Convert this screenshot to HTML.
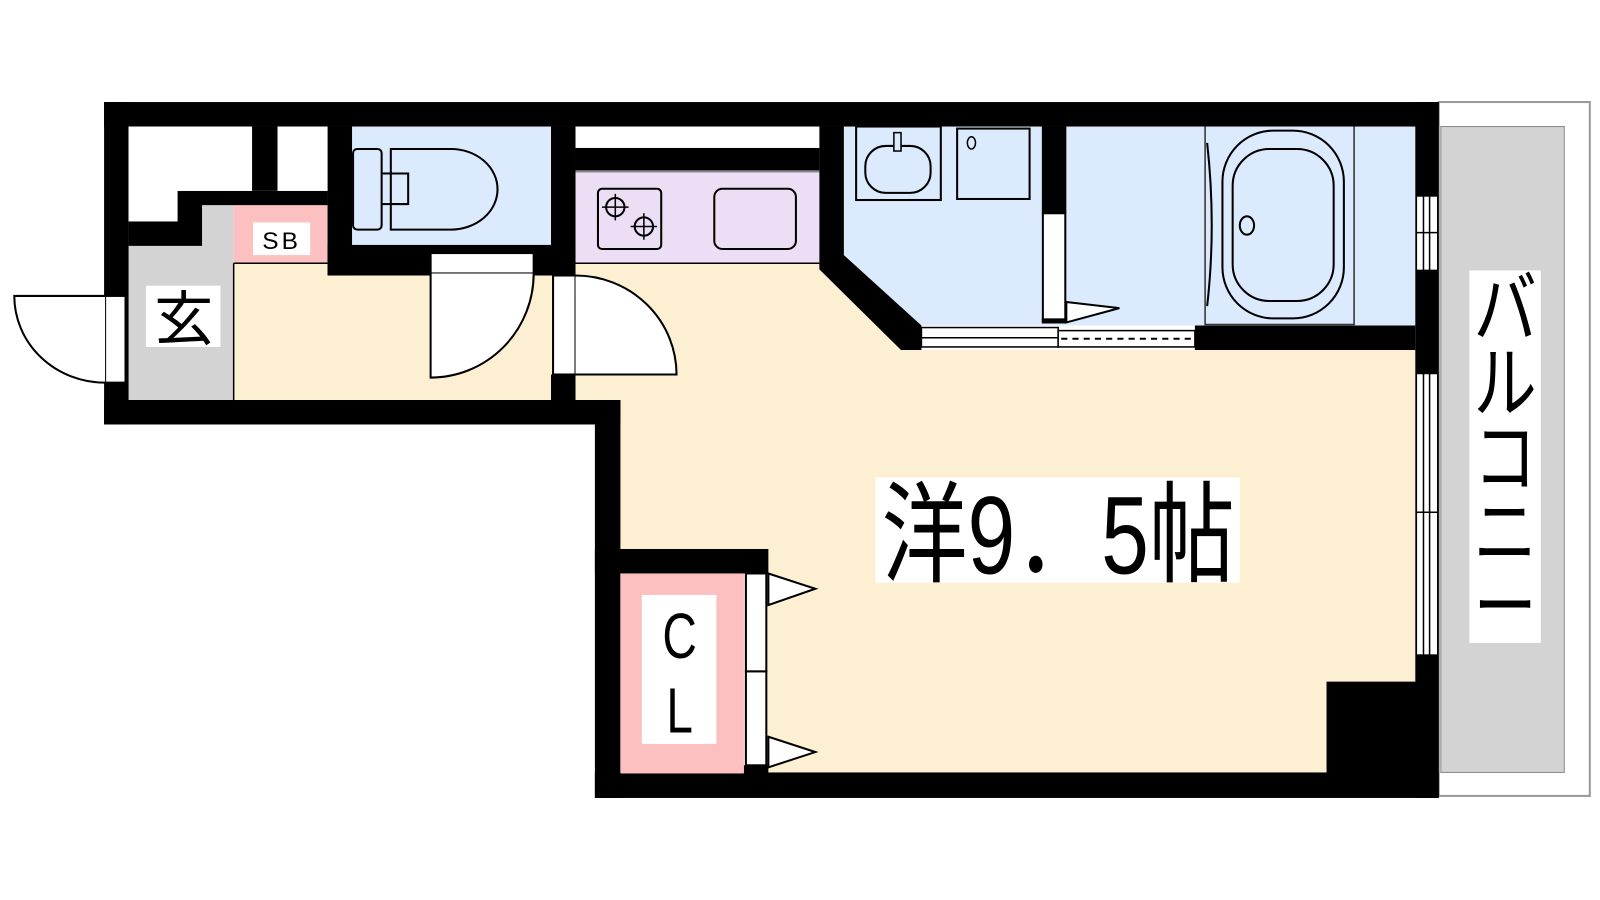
<!DOCTYPE html>
<html><head><meta charset="utf-8"><style>html,body{margin:0;padding:0;background:#fff}svg{display:block}</style></head>
<body>
<svg width="1600" height="900" viewBox="0 0 1568 882" preserveAspectRatio="none" xmlns="http://www.w3.org/2000/svg" font-family="'Liberation Sans','Noto Sans CJK JP',sans-serif">
<rect width="1568" height="882" fill="#fff"/>
<!-- balcony -->
<rect x="1410" y="100" width="148" height="680" fill="#fff" stroke="#999" stroke-width="2"/>
<rect x="1412" y="124" width="121" height="633" fill="#d3d3d3" stroke="#888" stroke-width="1"/>
<rect x="1440" y="265" width="70" height="365" fill="#fff"/>
<g font-size="62" text-anchor="middle" fill="#000">
<text transform="translate(1475,330) scale(1,1.25)">バ</text>
<text transform="translate(1475,403) scale(1,1.25)">ル</text>
<text transform="translate(1475,476) scale(1,1.25)">コ</text>
<text transform="translate(1475,549) scale(1,1.25)">ニ</text>
<text transform="translate(1475,622) scale(1,1.25)">ー</text>
</g>
<!-- main room floor -->
<polygon points="564,258 803,258 883,343 1387,343 1387,757 608,757 608,394 564,394" fill="#fdf0d2"/>
<!-- hallway -->
<rect x="229" y="258" width="335" height="136" fill="#fdf0d2"/>
<!-- genkan -->
<polygon points="198,201 229,201 229,394 126,394 126,241 198,241" fill="#d3d3d3"/>
<rect x="143" y="280" width="73" height="60" fill="#fff"/>
<text x="180" y="333" font-size="58" text-anchor="middle">玄</text>
<!-- SB -->
<rect x="229" y="201" width="92" height="57" fill="#fcc0c0"/>
<rect x="248" y="218" width="56" height="32" fill="#fff"/>
<text x="276" y="244" font-size="24" text-anchor="middle" letter-spacing="3">SB</text>
<line x1="229" y1="258" x2="321" y2="258" stroke="#000" stroke-width="1.5"/>
<line x1="229" y1="258" x2="229" y2="394" stroke="#000" stroke-width="1.5"/>
<!-- toilet -->
<rect x="345" y="124" width="195" height="116" fill="#dbeafd"/>
<rect x="346" y="146" width="28" height="79" rx="4" fill="none" stroke="#000" stroke-width="2"/>
<path d="M383,146 H442 A45,39 0 0 1 442,225 H383 Z" fill="none" stroke="#000" stroke-width="2"/>
<path d="M383,170 H400 V200 H383" fill="none" stroke="#000" stroke-width="2"/>
<line x1="374" y1="170" x2="383" y2="170" stroke="#000" stroke-width="2"/><line x1="374" y1="200" x2="383" y2="200" stroke="#000" stroke-width="2"/>
<!-- kitchen -->
<rect x="564" y="124" width="239" height="21" fill="#fff"/>
<rect x="564" y="145" width="239" height="22" fill="#000"/>
<rect x="564" y="168" width="239" height="90" fill="#ecdff5"/>
<line x1="564" y1="168" x2="803" y2="168" stroke="#888" stroke-width="2"/>
<line x1="564" y1="258" x2="803" y2="258" stroke="#000" stroke-width="1.5"/>
<rect x="586" y="185" width="62" height="59" rx="4" fill="none" stroke="#000" stroke-width="2"/>
<circle cx="603" cy="203" r="9" fill="none" stroke="#000" stroke-width="2"/><circle cx="631" cy="222" r="9" fill="none" stroke="#000" stroke-width="2"/>
<path d="M603,190v26M590,203h26M631,209v26M618,222h26" stroke="#000" stroke-width="1.5"/>
<rect x="700" y="185" width="80" height="59" rx="8" fill="none" stroke="#000" stroke-width="2"/>
<!-- bath/wash area -->
<polygon points="827,124 1387,124 1387,319 893,319 827,253" fill="#dbeafd"/>
<rect x="839" y="124" width="83" height="72" fill="none" stroke="#000" stroke-width="2"/>
<rect x="848" y="143" width="64" height="46" rx="20" fill="none" stroke="#000" stroke-width="2"/>
<rect x="876" y="130" width="7" height="18" fill="#dbeafd" stroke="#000" stroke-width="1.5"/>
<rect x="938" y="126" width="71" height="69" fill="none" stroke="#000" stroke-width="2"/>
<ellipse cx="952" cy="140" rx="4" ry="6" fill="none" stroke="#000" stroke-width="1.5"/>
<rect x="1021" y="124" width="24" height="85" fill="#000"/>
<rect x="1022" y="209" width="22" height="106" fill="#fff" stroke="#000" stroke-width="2"/>
<rect x="1021" y="312" width="24" height="5" fill="#000"/>
<polygon points="1045,296 1097,302 1045,316" fill="#fff" stroke="#000" stroke-width="2"/>
<path d="M1181,124 V318 H1327 V124" fill="none" stroke="#333" stroke-width="1.5"/>
<path d="M1183,140 Q1192,221 1183,300" fill="none" stroke="#000" stroke-width="2"/>
<rect x="1198" y="128" width="119" height="184" rx="50" fill="none" stroke="#000" stroke-width="2"/>
<rect x="1208" y="146" width="99" height="149" rx="36" fill="none" stroke="#000" stroke-width="2"/>
<ellipse cx="1222" cy="221" rx="7" ry="9" fill="none" stroke="#000" stroke-width="2"/>
<!-- walls -->
<g fill="#000">
<rect x="102" y="100" width="1308" height="24"/>
<rect x="102" y="100" width="24" height="316"/>
<rect x="102" y="392" width="506" height="24"/>
<rect x="583" y="392" width="25" height="390"/>
<rect x="583" y="757" width="827" height="25"/>
<rect x="1387" y="100" width="23" height="682"/>
<rect x="1300" y="668" width="100" height="100"/>
<rect x="247" y="124" width="25" height="63"/>
<polygon points="174,187 321,187 321,201 229,201 198,201 198,241 126,241 126,217 174,217"/>
<rect x="321" y="124" width="24" height="146"/>
<rect x="321" y="240" width="243" height="30"/>
<rect x="540" y="124" width="24" height="146"/>
<rect x="540" y="367" width="24" height="27"/>
<rect x="803" y="124" width="24" height="136"/>
<polygon points="803,258 827,250 903,319 903,343 883,343 803,264"/>
<rect x="1171" y="319" width="216" height="24"/>
<rect x="583" y="538" width="170" height="24"/>
<rect x="729" y="750" width="24" height="10"/>
</g>
<!-- white voids top-left -->
<polygon points="126,124 247,124 247,187 174,187 174,217 126,217" fill="#fff"/>
<rect x="272" y="124" width="49" height="63" fill="#fff"/>
<!-- door frames -->
<rect x="103" y="290" width="20" height="85" fill="#fff" stroke="#000" stroke-width="2"/>
<path d="M103,290 H14 A89,85 0 0 0 103,375" fill="#fff" stroke="#000" stroke-width="2"/>
<rect x="422" y="248" width="101" height="20" fill="#fff" stroke="#000" stroke-width="2"/>
<path d="M422,268 V370 A101,102 0 0 0 523,268" fill="#fff" stroke="#000" stroke-width="2"/>
<rect x="542" y="270" width="22" height="97" fill="#fff" stroke="#000" stroke-width="2"/>
<path d="M564,367 H663 A99,97 0 0 0 564,270" fill="#fff" stroke="#000" stroke-width="2"/>
<!-- sliding door bath -->
<rect x="903" y="321" width="134" height="19" fill="#fff" stroke="#000" stroke-width="1.5"/>
<line x1="903" y1="331" x2="1037" y2="331" stroke="#000" stroke-width="1.5"/>
<rect x="1037" y="324" width="134" height="16" fill="#fff" stroke="#000" stroke-width="1.5"/>
<line x1="1040" y1="332" x2="1168" y2="332" stroke="#000" stroke-width="2" stroke-dasharray="6,5"/>
<!-- windows right wall -->
<g fill="#fff" stroke="#000" stroke-width="1.5">
<rect x="1388" y="192" width="21" height="73"/>
<rect x="1388" y="366" width="21" height="276"/>
</g>
<path d="M1395,192v73M1401,192v73M1395,366v276M1401,366v276M1388,228h21M1388,502h21" stroke="#000" stroke-width="1.5"/>
<!-- closet -->
<rect x="608" y="562" width="121" height="196" fill="#fcc0c0"/>
<rect x="629" y="583" width="73" height="146" fill="#fff"/>
<text transform="translate(666,645) scale(0.9,1.2)" font-size="52" text-anchor="middle">C</text>
<text transform="translate(666,718) scale(0.9,1.2)" font-size="52" text-anchor="middle">L</text>
<rect x="731" y="562" width="20" height="96" fill="#fff" stroke="#000" stroke-width="2"/>
<rect x="731" y="658" width="20" height="92" fill="#fff" stroke="#000" stroke-width="2"/>
<polygon points="753,562 799,577 753,593" fill="#fff" stroke="#000" stroke-width="2"/>
<polygon points="753,722 799,737 753,752" fill="#fff" stroke="#000" stroke-width="2"/>
<!-- main label -->
<rect x="858" y="468" width="357" height="103" fill="#fff"/>
<text x="864" y="562" font-size="108" textLength="346" lengthAdjust="spacingAndGlyphs">洋9．5帖</text>
</svg>
</body></html>
